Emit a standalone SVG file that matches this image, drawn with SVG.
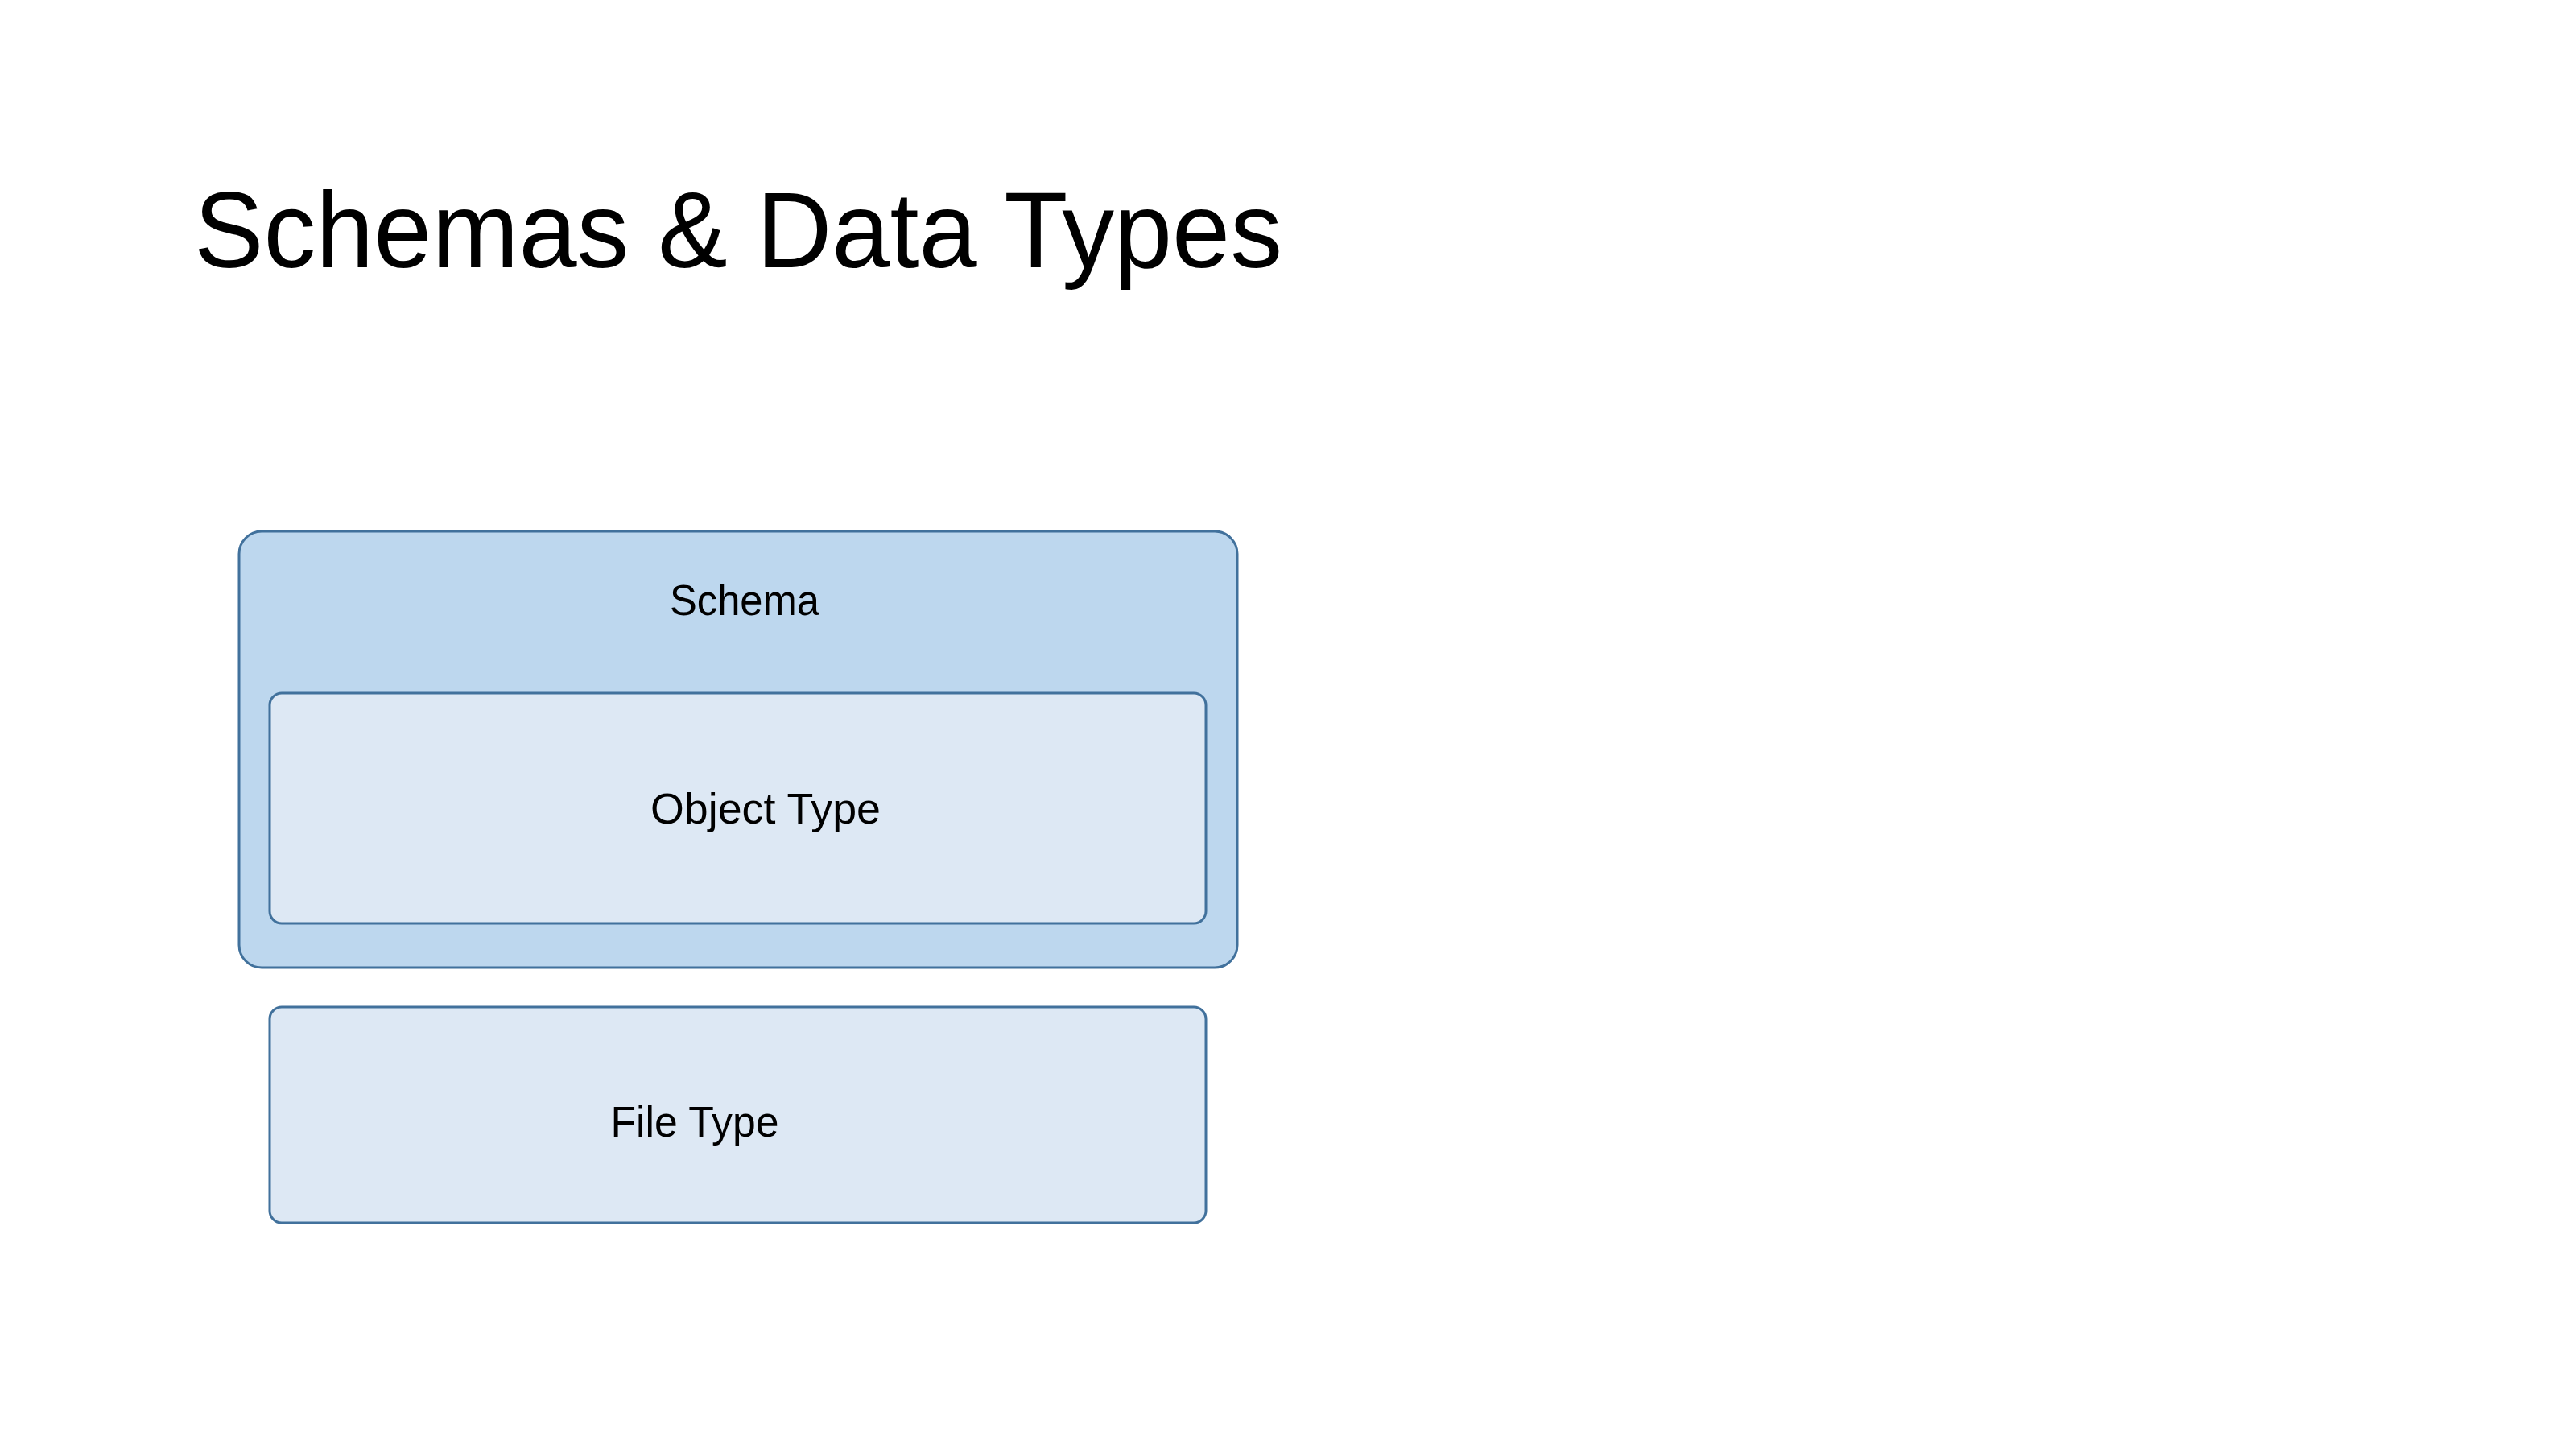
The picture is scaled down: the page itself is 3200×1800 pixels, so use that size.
<svg xmlns="http://www.w3.org/2000/svg" width="3200" height="1800" viewBox="0 0 3200 1800">
<style>
.box{stroke:#41719C;stroke-width:3}
.outer{fill:#BDD7EE}
.inner{fill:#DDE8F4}
.lbl{font-family:"Liberation Sans",Arial,sans-serif;font-size:53px;fill:#000;text-anchor:middle}
.title{font-family:"Liberation Sans",Arial,sans-serif;font-size:133px;fill:#000}
</style>
<rect width="3200" height="1800" fill="#FFFFFF"/>
<text class="title" x="241" y="332" textLength="1352" lengthAdjust="spacingAndGlyphs">Schemas &amp; Data Types</text>
<g id="schema">
<rect class="box outer" x="297" y="660" width="1240" height="542" rx="28" ry="28"/>
<text class="lbl" x="925" y="764" textLength="186" lengthAdjust="spacingAndGlyphs">Schema</text>
</g>
<g id="object-type">
<rect class="box inner" x="335" y="861" width="1163" height="286" rx="15" ry="15"/>
<text class="lbl" x="951" y="1023" textLength="286" lengthAdjust="spacingAndGlyphs">Object Type</text>
</g>
<g id="file-type">
<rect class="box inner" x="335" y="1251" width="1163" height="268" rx="15" ry="15"/>
<text class="lbl" x="863" y="1412" textLength="209" lengthAdjust="spacingAndGlyphs">File Type</text>
</g>
<g id="connectors"></g>
</svg>
